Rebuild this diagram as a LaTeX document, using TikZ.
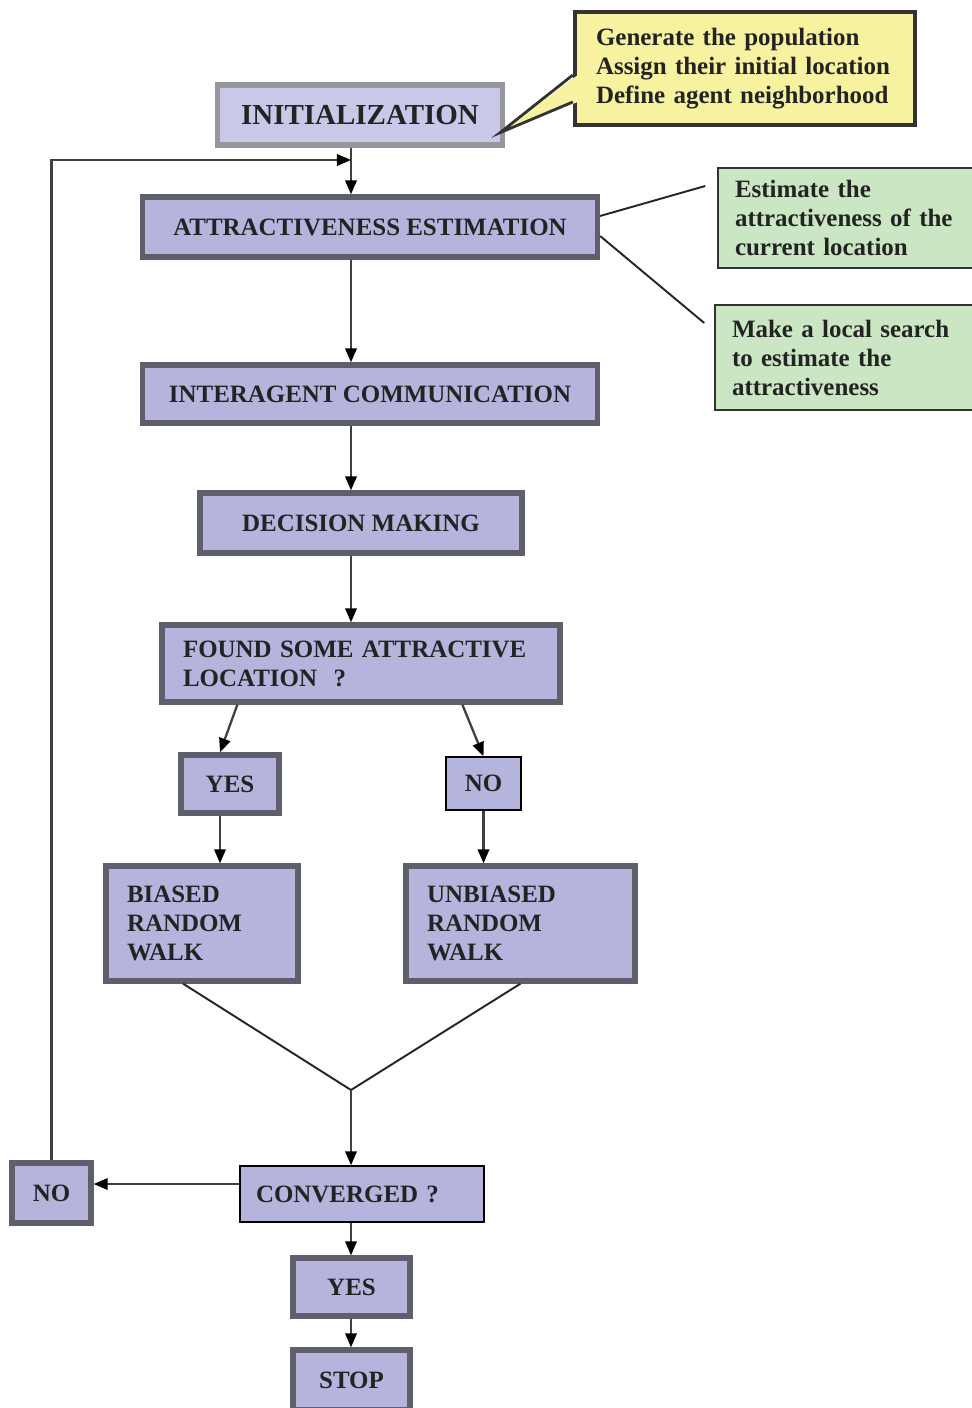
\documentclass[tikz,border=0pt]{standalone}
\usepackage{fontspec}
\setmainfont{Liberation Serif}
\usepackage{tikz}
\usetikzlibrary{arrows.meta}
\definecolor{lav}{RGB}{180,180,220}
\definecolor{lavlight}{RGB}{200,200,232}
\definecolor{frame}{RGB}{95,95,108}
\definecolor{framelight}{RGB}{150,150,158}
\definecolor{lemon}{RGB}{246,242,160}
\definecolor{mint}{RGB}{202,230,195}
\definecolor{ink}{RGB}{35,35,35}

\begin{document}
\begin{tikzpicture}[x=0.02cm,y=-0.02cm,
  pbox/.style={rectangle, draw=frame, line width=3pt, fill=lav, text=ink, inner sep=0pt, align=center,
    font=\bfseries\fontsize{14.2}{16.5}\selectfont},
  tbox/.style={pbox, draw=black, line width=0.8pt},
  lbox/.style={pbox, align=left, inner xsep=0.42cm},
  note/.style={rectangle, draw=black!80, line width=0.9pt, fill=mint, text=ink, align=left, inner xsep=0.34cm,
    font=\bfseries\fontsize{14.2}{16.5}\selectfont},
  flow/.style={draw=black!75, line width=1.3pt, -{Triangle[length=8pt,width=6.5pt,color=black]}},
  lead/.style={draw=black!85, line width=1.1pt}]
\useasboundingbox[fill=white] (0,0) rectangle (972,1408);

%%main column
\coordinate (spine) at (351,0);
\node[pbox, fill=lavlight, draw=framelight, minimum width=5.7cm, minimum height=1.2cm,
  font=\bfseries\fontsize{16.5}{19}\selectfont] (init) at (360,115) {INITIALIZATION};
\node[pbox, minimum width=9.1cm, minimum height=1.2cm] (attr) at (370,227) {ATTRACTIVENESS ESTIMATION};
\node[pbox, minimum width=9.1cm, minimum height=1.16cm] (inter) at (370,394) {INTERAGENT COMMUNICATION};
\node[pbox, minimum width=6.44cm, minimum height=1.2cm] (decide) at (361,523) {DECISION MAKING};
\node[lbox, minimum width=7.96cm, minimum height=1.54cm, text width=7.12cm] (found) at (361,663.5)
  {FOUND SOME ATTRACTIVE\\LOCATION\ \ ?};

%%branches
\node[pbox, minimum width=1.96cm, minimum height=1.16cm] (yes1) at (230,784) {YES};
\node[tbox, minimum width=1.5cm, minimum height=1.06cm] (no1) at (483.5,783.5) {NO};
\node[lbox, minimum width=3.84cm, minimum height=2.3cm, text width=3.0cm] (biased) at (202,923.5)
  {BIASED\\RANDOM\\WALK};
\node[lbox, minimum width=4.58cm, minimum height=2.3cm, text width=3.74cm] (unbiased) at (520.5,923.5)
  {UNBIASED\\RANDOM\\WALK};
\coordinate (merge) at (351,1090);

%%end test
\node[tbox, align=left, inner xsep=0.32cm, minimum width=4.88cm, minimum height=1.12cm, text width=4.24cm]
  (conv) at (362,1194) {CONVERGED ?};
\node[pbox, minimum width=1.58cm, minimum height=1.2cm] (no2) at (51.5,1193) {NO};
\node[pbox, minimum width=2.34cm, minimum height=1.16cm] (yes2) at (351.5,1287) {YES};
\node[pbox, minimum width=2.34cm, minimum height=1.2cm] (stop) at (351.5,1380) {STOP};
\coordinate (back) at (351,160);

%%notes
\node[note, fill=lemon, line width=2.5pt, minimum width=6.8cm, minimum height=2.26cm, text width=5.96cm,
  inner xsep=0.42cm] (setup) at (745,68.5)
  {Generate the population\\Assign their initial location\\Define agent neighborhood};
\node[note, minimum width=5.24cm, minimum height=2.0cm, text width=4.56cm] (est) at (849,218)
  {Estimate the\\attractiveness of the\\current location};
\node[note, minimum width=5.3cm, minimum height=2.1cm, text width=4.62cm] (search) at (847.5,357.5)
  {Make a local search\\to estimate the\\attractiveness};

%%callout
\coordinate (tip) at ([xshift=-0.1cm,yshift=0.3cm]init.south east);
\fill[lemon] ([xshift=0.1cm,yshift=-0.13cm]setup.west) -- (tip) -- ([xshift=0.1cm,yshift=-0.67cm]setup.west) -- cycle;
\draw[black!80, line width=1.6pt, line join=miter] ([yshift=-0.13cm]setup.west) -- (tip)
  -- ([yshift=-0.67cm]setup.west);

%%arrows
\draw[flow] (init.south -| spine) -- (attr.north -| spine);
\draw[flow] (attr.south -| spine) -- (inter.north -| spine);
\draw[flow] (inter.south -| spine) -- (decide.north -| spine);
\draw[flow] (decide.south -| spine) -- (found.north -| spine);
\draw[flow] ([xshift=1.56cm]found.south west) -- ([xshift=-0.2cm]yes1.north);
\draw[flow] ([xshift=6.06cm]found.south west) -- (no1.north);
\draw[flow] ([xshift=-0.2cm]yes1.south) -- ([xshift=-0.2cm]yes1.south |- biased.north);
\draw[flow] (no1.south) -- (no1.south |- unbiased.north);
\draw[lead] ([xshift=-0.38cm]biased.south) -- (merge) -- (unbiased.south);
\draw[flow] (merge) -- (conv.north -| spine);
\draw[flow] ([yshift=0.2cm]conv.west) -- ([yshift=0.2cm]conv.west -| no2.east);
\draw[flow] (no2.north) |- (back);
\draw[flow] (conv.south -| spine) -- (yes2.north -| spine);
\draw[flow] (yes2.south -| spine) -- (stop.north -| spine);

%%leads to notes
\draw[lead] ([yshift=0.22cm]attr.east) -- ([xshift=-0.24cm,yshift=0.64cm]est.west);
\draw[lead] ([yshift=-0.18cm]attr.east) -- ([xshift=-0.2cm,yshift=0.69cm]search.west);
\end{tikzpicture}
\end{document}
